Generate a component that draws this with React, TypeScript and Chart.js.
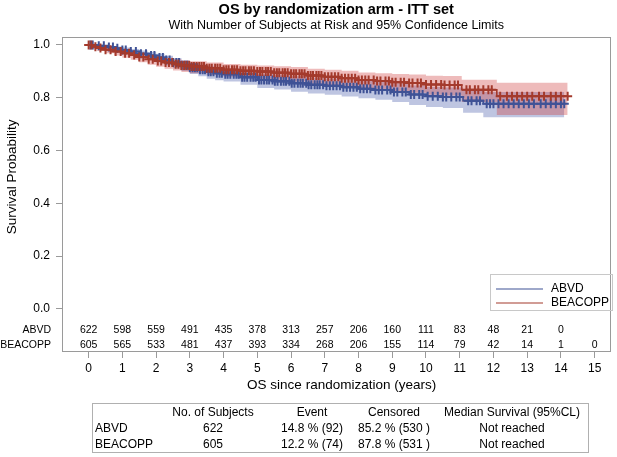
import React, { useEffect, useRef } from "react";
import { Chart, registerables } from "chart.js";

Chart.register(...registerables);

const FONT = "'Liberation Sans', Arial, sans-serif";

const xTickValues = [0, 1, 2, 3, 4, 5, 6, 7, 8, 9, 10, 11, 12, 13, 14, 15];
const yTickValues = [0, 0.2, 0.4, 0.6, 0.8, 1.0];

const abvdTime = [0, 0.25, 0.5, 0.75, 1.0, 1.25, 1.5, 1.75, 2.0, 2.25, 2.5, 2.75, 3.0, 3.25, 3.5, 3.75, 4.0, 4.5, 5.0, 5.5, 6.0, 6.5, 7.0, 7.5, 8.0, 8.5, 9.0, 9.5, 10.0, 10.5, 11.1, 11.7, 14.1];
const abvdSurv = [1.0, 0.997, 0.992, 0.987, 0.981, 0.975, 0.967, 0.96, 0.952, 0.943, 0.933, 0.923, 0.914, 0.906, 0.898, 0.893, 0.889, 0.878, 0.867, 0.862, 0.855, 0.849, 0.845, 0.84, 0.834, 0.829, 0.822, 0.812, 0.806, 0.803, 0.789, 0.777, 0.777];
const abvdLower = [1.0, 0.992, 0.983, 0.976, 0.969, 0.961, 0.952, 0.943, 0.933, 0.923, 0.912, 0.901, 0.89, 0.881, 0.872, 0.866, 0.861, 0.849, 0.837, 0.831, 0.823, 0.816, 0.811, 0.805, 0.798, 0.792, 0.784, 0.772, 0.765, 0.761, 0.743, 0.726, 0.726];
const abvdUpper = [1.0, 1.0, 0.997, 0.994, 0.99, 0.985, 0.979, 0.973, 0.967, 0.959, 0.95, 0.941, 0.933, 0.926, 0.919, 0.915, 0.911, 0.901, 0.891, 0.887, 0.881, 0.876, 0.873, 0.869, 0.864, 0.86, 0.854, 0.846, 0.841, 0.839, 0.828, 0.822, 0.822];

const beacoppTime = [0, 0.1, 0.25, 0.5, 0.75, 1.0, 1.25, 1.5, 1.75, 2.0, 2.25, 2.5, 2.75, 3.0, 3.5, 4.0, 4.5, 5.0, 5.5, 6.0, 6.5, 7.0, 7.5, 8.0, 8.5, 9.0, 9.5, 10.0, 10.5, 11.06, 12.1, 14.2];
const beacoppSurv = [1.0, 0.993, 0.988, 0.982, 0.975, 0.968, 0.962, 0.954, 0.946, 0.939, 0.933, 0.927, 0.922, 0.918, 0.912, 0.906, 0.902, 0.899, 0.895, 0.891, 0.884, 0.879, 0.874, 0.867, 0.863, 0.859, 0.856, 0.85, 0.848, 0.83, 0.806, 0.806];
const beacoppLower = [1.0, 0.984, 0.977, 0.968, 0.96, 0.951, 0.944, 0.934, 0.925, 0.917, 0.91, 0.903, 0.897, 0.893, 0.886, 0.879, 0.874, 0.87, 0.866, 0.861, 0.853, 0.847, 0.841, 0.833, 0.828, 0.823, 0.819, 0.811, 0.808, 0.784, 0.735, 0.735];
const beacoppUpper = [1.0, 0.998, 0.995, 0.991, 0.986, 0.98, 0.975, 0.969, 0.962, 0.956, 0.951, 0.946, 0.942, 0.938, 0.933, 0.928, 0.925, 0.922, 0.919, 0.916, 0.91, 0.906, 0.902, 0.896, 0.893, 0.89, 0.888, 0.883, 0.882, 0.868, 0.857, 0.857];

const abvdCensor = [0.05, 0.12, 0.3, 0.45, 0.6, 0.72, 0.85, 1.0, 1.1, 1.25, 1.4, 1.55, 1.7, 1.85, 1.95, 2.1, 2.2, 2.3, 2.4, 2.5, 2.6, 2.68, 2.76, 2.85, 2.92, 3.0, 3.08, 3.15, 3.22, 3.3, 3.38, 3.45, 3.55, 3.62, 3.7, 3.8, 3.88, 3.95, 4.05, 4.12, 4.2, 4.3, 4.38, 4.45, 4.55, 4.62, 4.7, 4.8, 4.88, 4.95, 5.05, 5.12, 5.2, 5.28, 5.35, 5.45, 5.52, 5.6, 5.7, 5.78, 5.85, 5.95, 6.02, 6.1, 6.2, 6.28, 6.35, 6.45, 6.52, 6.6, 6.7, 6.78, 6.85, 6.95, 7.05, 7.15, 7.25, 7.35, 7.45, 7.55, 7.65, 7.75, 7.85, 7.95, 8.05, 8.15, 8.25, 8.35, 8.5, 8.6, 8.7, 8.85, 8.95, 9.05, 9.15, 9.3, 9.4, 9.55, 9.65, 9.8, 9.9, 10.05, 10.2, 10.35, 10.5, 10.6, 10.75, 10.9, 11.0, 11.25, 11.35, 11.5, 11.6, 11.8, 11.9, 12.0, 12.15, 12.3, 12.45, 12.6, 12.75, 12.9, 13.05, 13.2, 13.4, 13.55, 13.7, 13.85, 14.0, 14.1];
const beacoppCensor = [0.0, 0.08, 0.2, 0.35, 0.5, 0.65, 0.8, 0.95, 1.08, 1.2, 1.35, 1.5, 1.62, 1.78, 1.9, 2.05, 2.15, 2.28, 2.38, 2.48, 2.58, 2.66, 2.75, 2.83, 2.9, 2.98, 3.05, 3.12, 3.2, 3.28, 3.35, 3.42, 3.5, 3.58, 3.65, 3.75, 3.82, 3.9, 4.0, 4.08, 4.15, 4.25, 4.32, 4.4, 4.5, 4.58, 4.65, 4.75, 4.82, 4.9, 5.0, 5.08, 5.15, 5.25, 5.32, 5.4, 5.5, 5.58, 5.65, 5.75, 5.82, 5.9, 6.0, 6.08, 6.15, 6.25, 6.32, 6.4, 6.5, 6.58, 6.65, 6.75, 6.82, 6.9, 7.0, 7.1, 7.2, 7.3, 7.4, 7.5, 7.6, 7.7, 7.8, 7.9, 8.0, 8.1, 8.2, 8.3, 8.45, 8.55, 8.65, 8.8, 8.9, 9.0, 9.1, 9.25, 9.35, 9.5, 9.6, 9.75, 9.85, 10.0, 10.15, 10.3, 10.45, 10.55, 10.7, 10.85, 10.95, 11.2, 11.3, 11.45, 11.55, 11.7, 11.85, 11.95, 12.2, 12.4, 12.55, 12.7, 12.85, 13.0, 13.15, 13.35, 13.5, 13.7, 13.85, 14.0, 14.2];

const atRiskLabels = ["ABVD", "BEACOPP"];
const abvdAtRisk = [622, 598, 559, 491, 435, 378, 313, 257, 206, 160, 111, 83, 48, 21, 0];
const beacoppAtRisk = [605, 565, 533, 481, 437, 393, 334, 268, 206, 155, 114, 79, 42, 14, 1, 0];

const tableHeader = ["", "No. of Subjects", "Event", "Censored", "Median Survival (95%CL)"];
const tableAbvd = ["ABVD", "622", "14.8 % (92)", "85.2 % (530 )", "Not reached"];
const tableBeacopp = ["BEACOPP", "605", "12.2 % (74)", "87.8 % (531 )", "Not reached"];

const BLUE = "#3f5296";
const RED = "#a43a2c";

const toPts = (t: number[], v: number[]) => t.map((x, i) => ({ x, y: v[i] }));
const survAt = (t: number[], s: number[], x: number) => {
  let v = s[0];
  for (let i = 0; i < t.length; i++) if (t[i] <= x) v = s[i];
  return v;
};

const decor = {
  id: "decor",
  afterDraw(chart: any) {
    const ctx = chart.ctx;
    const a = chart.chartArea;
    const xs = chart.scales.x;
    const ys = chart.scales.y;
    ctx.save();
    // frame
    ctx.strokeStyle = "#9a9a9a";
    ctx.lineWidth = 1;
    ctx.strokeRect(Math.round(a.left) + 0.5, Math.round(a.top) + 0.5, Math.round(a.right - a.left) - 1, Math.round(a.bottom - a.top) - 1);
    const cx = (a.left + a.right) / 2;
    ctx.fillStyle = "#000";
    ctx.textAlign = "center";
    ctx.textBaseline = "middle";
    ctx.font = `bold 14.5px ${FONT}`;
    ctx.fillText("OS by randomization arm - ITT set", cx, 10);
    ctx.font = `12.5px ${FONT}`;
    ctx.fillText("With Number of Subjects at Risk and 95% Confidence Limits", cx, 26);
    // y title
    ctx.save();
    ctx.translate(12, (ys.getPixelForValue(0) + ys.getPixelForValue(1)) / 2);
    ctx.rotate(-Math.PI / 2);
    ctx.font = `13.5px ${FONT}`;
    ctx.fillText("Survival Probability", 0, 0);
    ctx.restore();
    // x title
    ctx.font = `13.5px ${FONT}`;
    ctx.fillText("OS since randomization (years)", (xs.getPixelForValue(0) + xs.getPixelForValue(15)) / 2, 385);
    // at risk
    const rowY = [330, 345];
    ctx.font = `10.5px ${FONT}`;
    ctx.textAlign = "right";
    atRiskLabels.forEach((l, i) => ctx.fillText(l, 51, rowY[i]));
    ctx.textAlign = "center";
    abvdAtRisk.forEach((n, i) => ctx.fillText(String(n), xs.getPixelForValue(i), rowY[0]));
    beacoppAtRisk.forEach((n, i) => ctx.fillText(String(n), xs.getPixelForValue(i), rowY[1]));
    // legend
    ctx.lineWidth = 1;
    ctx.strokeStyle = "#c8c8c8";
    ctx.strokeRect(490.5, 274.5, 122, 36);
    ctx.lineWidth = 1.2;
    ctx.strokeStyle = BLUE;
    ctx.beginPath(); ctx.moveTo(496, 289); ctx.lineTo(543, 289); ctx.stroke();
    ctx.strokeStyle = RED;
    ctx.beginPath(); ctx.moveTo(496, 303); ctx.lineTo(543, 303); ctx.stroke();
    ctx.textAlign = "left";
    ctx.font = `12px ${FONT}`;
    ctx.fillText("ABVD", 551, 289);
    ctx.fillText("BEACOPP", 551, 303);
    // table
    ctx.lineWidth = 1;
    ctx.strokeStyle = "#b0b0b0";
    ctx.strokeRect(92.5, 403.5, 496, 49);
    const colX = [95, 213, 312, 394, 512];
    const rows = [tableHeader, tableAbvd, tableBeacopp];
    const rY = [413, 429, 445];
    rows.forEach((r, ri) => {
      r.forEach((c, ci) => {
        ctx.textAlign = ci === 0 ? "left" : "center";
        ctx.fillText(c, colX[ci], rY[ri]);
      });
    });
    ctx.restore();
  },
};

export default function App() {
  const ref = useRef<HTMLCanvasElement>(null);
  useEffect(() => {
    if (!ref.current) return;
    const censorPts = (c: number[], t: number[], s: number[]) => c.map((x) => ({ x, y: survAt(t, s, x) }));
    const chart = new Chart(ref.current, {
      type: "line",
      data: {
        datasets: [
          { label: "abvdLo", data: toPts(abvdTime, abvdLower), stepped: true, borderWidth: 0, pointRadius: 0, fill: false, order: 11, borderColor: "rgba(0,0,0,0)" },
          { label: "abvdHi", data: toPts(abvdTime, abvdUpper), stepped: true, borderWidth: 0, pointRadius: 0, fill: "-1", backgroundColor: "rgba(70,90,170,0.35)", order: 11, borderColor: "rgba(0,0,0,0)" },
          { label: "beaLo", data: toPts(beacoppTime, beacoppLower), stepped: true, borderWidth: 0, pointRadius: 0, fill: false, order: 10, borderColor: "rgba(0,0,0,0)" },
          { label: "beaHi", data: toPts(beacoppTime, beacoppUpper), stepped: true, borderWidth: 0, pointRadius: 0, fill: "-1", backgroundColor: "rgba(205,60,60,0.35)", order: 10, borderColor: "rgba(0,0,0,0)" },
          { label: "ABVD", data: toPts(abvdTime, abvdSurv), stepped: true, borderWidth: 1.6, pointRadius: 0, borderColor: BLUE, fill: false, order: 6 },
          { label: "BEACOPP", data: toPts(beacoppTime, beacoppSurv), stepped: true, borderWidth: 1.6, pointRadius: 0, borderColor: RED, fill: false, order: 5 },
          { label: "abvdC", data: censorPts(abvdCensor, abvdTime, abvdSurv), showLine: false, pointStyle: "cross", pointRadius: 4.5, borderColor: BLUE, borderWidth: 2, order: 3 },
          { label: "beaC", data: censorPts(beacoppCensor, beacoppTime, beacoppSurv), showLine: false, pointStyle: "cross", pointRadius: 4.5, borderColor: RED, borderWidth: 2, order: 2 },
        ] as any,
      },
      options: {
        animation: false,
        responsive: false,
        events: [],
        layout: { padding: { top: 37, left: 0, right: 2, bottom: 75 } },
        elements: { line: { tension: 0 } },
        plugins: { legend: { display: false }, tooltip: { enabled: false }, title: { display: false } },
        scales: {
          x: {
            type: "linear",
            min: -0.79,
            max: 15.47,
            afterBuildTicks: (s: any) => { s.ticks = xTickValues.map((v) => ({ value: v })); },
            afterFit: (s: any) => { s.height = 30; },
            ticks: { color: "#000", font: { family: FONT, size: 12 }, padding: 3, maxRotation: 0, autoSkip: false, callback: (v: any) => String(v) },
            grid: { drawOnChartArea: false, drawTicks: true, tickLength: 6, color: "#9a9a9a" },
            border: { display: false },
          },
          y: {
            type: "linear",
            min: -0.163,
            max: 1.03,
            afterBuildTicks: (s: any) => { s.ticks = yTickValues.map((v) => ({ value: v })); },
            afterFit: (s: any) => { s.width = 62; },
            ticks: { color: "#000", font: { family: FONT, size: 12 }, padding: 6, callback: (v: any) => Number(v).toFixed(1) },
            grid: { drawOnChartArea: false, drawTicks: true, tickLength: 6, color: "#9a9a9a" },
            border: { display: false },
          },
        },
      },
      plugins: [decor],
    });
    return () => chart.destroy();
  }, []);
  return (
    <div style={{ position: "fixed", left: 0, top: 0, width: 617, height: 457, background: "#fff" }}>
      <canvas ref={ref} width={617} height={457} style={{ display: "block", width: 617, height: 457 }} />
    </div>
  );
}
